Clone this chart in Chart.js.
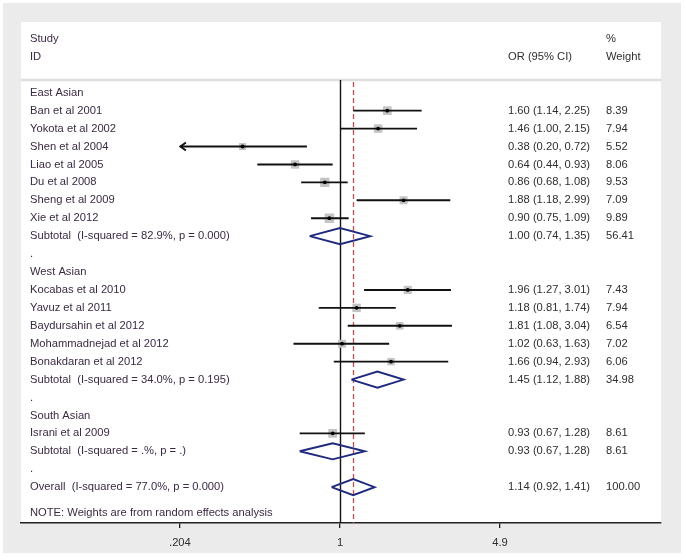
<!DOCTYPE html>
<html>
<head>
<meta charset="utf-8">
<script src="https://cdn.jsdelivr.net/npm/chart.js@4"></script>
<style>
html,body{margin:0;padding:0;background:#fff;}
canvas{display:block;}
</style>
</head>
<body>
<canvas id="c" width="686" height="560"></canvas>
<script>
// ---- data ----
const groupNames = ["East Asian", "West Asian", "South Asian"];
const groupRows = [0, 10, 18];
const spacerRows = [9, 17, 21];

const studies = ["Ban et al 2001", "Yokota et al 2002", "Shen et al 2004", "Liao et al 2005", "Du et al 2008",
  "Sheng et al 2009", "Xie et al 2012", "Kocabas et al 2010", "Yavuz et al 2011", "Baydursahin et al 2012",
  "Mohammadnejad et al 2012", "Bonakdaran et al 2012", "Israni et al 2009"];
const studyRows = [1, 2, 3, 4, 5, 6, 7, 11, 12, 13, 14, 15, 19];
const studyOR = [1.60, 1.46, 0.38, 0.64, 0.86, 1.88, 0.90, 1.96, 1.18, 1.81, 1.02, 1.66, 0.93];
const studyLo = [1.14, 1.00, 0.20, 0.44, 0.68, 1.18, 0.75, 1.27, 0.81, 1.08, 0.63, 0.94, 0.67];
const studyHi = [2.25, 2.15, 0.72, 0.93, 1.08, 2.99, 1.09, 3.01, 1.74, 3.04, 1.63, 2.93, 1.28];
const studyWeight = [8.39, 7.94, 5.52, 8.06, 9.53, 7.09, 9.89, 7.43, 7.94, 6.54, 7.02, 6.06, 8.61];

const pooledLabels = ["Subtotal  (I-squared = 82.9%, p = 0.000)", "Subtotal  (I-squared = 34.0%, p = 0.195)",
  "Subtotal  (I-squared = .%, p = .)", "Overall  (I-squared = 77.0%, p = 0.000)"];
const pooledRows = [8, 16, 20, 22];
const pooledOR = [1.00, 1.45, 0.93, 1.14];
const pooledLo = [0.74, 1.12, 0.67, 0.92];
const pooledHi = [1.35, 1.88, 1.28, 1.41];
const pooledWeight = [56.41, 34.98, 8.61, 100.00];

const tickValues = [0.204, 1, 4.9];
const tickLabels = [".204", "1", "4.9"];
const noteText = "NOTE: Weights are from random effects analysis";
const overallOR = pooledOR[3];

// ---- style ----
const FONT = '11.2px "Liberation Sans", Arial, sans-serif';
const LABEL_COLOR = '#3a2a42';
const NUM_COLOR = '#2e2e2e';
const NAVY = '#1f2a7e';
const xMinVal = 0.04209, xMaxVal = 24.24;
const lowClip = tickValues[0];

// ---- build datasets from data ----
const ciPts = [];
studyRows.forEach((r, i) => {
  ciPts.push({x: Math.max(studyLo[i], lowClip), y: r});
  ciPts.push({x: studyHi[i], y: r});
  ciPts.push({x: studyHi[i], y: null});
});
const diamondPts = [];
const dh = 0.45;
pooledRows.forEach((r, i) => {
  diamondPts.push({x: pooledLo[i], y: r});
  diamondPts.push({x: pooledOR[i], y: r - dh});
  diamondPts.push({x: pooledHi[i], y: r});
  diamondPts.push({x: pooledOR[i], y: r + dh});
  diamondPts.push({x: pooledLo[i], y: r});
  diamondPts.push({x: pooledHi[i], y: null});
});
const pointPts = studyRows.map((r, i) => ({x: studyOR[i], y: r}));
const squareRadius = studyWeight.map(w => 3.0 * Math.sqrt(w) / Math.SQRT2);

const framePlugin = {
  id: 'frame',
  beforeDraw(chart) {
    const c = chart.ctx, a = chart.chartArea;
    c.save();
    c.fillStyle = '#ffffff'; c.fillRect(0, 0, 686, 560);
    c.fillStyle = '#ebebeb'; c.fillRect(3, 3, 678, 550);
    c.fillStyle = '#ffffff'; c.fillRect(a.left, 22, a.right - a.left, a.bottom - 22);
    c.strokeStyle = '#dedede'; c.lineWidth = 2.5;
    c.beginPath(); c.moveTo(a.left, a.top); c.lineTo(a.right, a.top); c.stroke();
    c.restore();
  },
  beforeDatasetsDraw(chart) {
    const c = chart.ctx, a = chart.chartArea, x = chart.scales.x;
    c.save();
    const x1 = Math.round(x.getPixelForValue(1)) + 0.5;
    c.strokeStyle = '#111'; c.lineWidth = 1.4;
    c.beginPath(); c.moveTo(x1, a.top); c.lineTo(x1, a.bottom); c.stroke();
    const xo = Math.round(x.getPixelForValue(overallOR)) + 0.5;
    c.strokeStyle = '#c0504d'; c.lineWidth = 1.3; c.setLineDash([5, 3]);
    c.beginPath(); c.moveTo(xo, a.top + 2); c.lineTo(xo, a.bottom); c.stroke();
    c.restore();
  },
  afterDraw(chart) {
    const c = chart.ctx, y = chart.scales.y, x = chart.scales.x;
    c.save();
    c.font = FONT; c.textBaseline = 'middle'; c.textAlign = 'left';
    const LX = 30, NX = 508, WX = 606;
    c.fillStyle = LABEL_COLOR;
    c.fillText("Study", LX, y.getPixelForValue(-3));
    c.fillText("ID", LX, y.getPixelForValue(-2));
    c.fillStyle = NUM_COLOR;
    c.fillText("OR (95% CI)", NX, y.getPixelForValue(-2));
    c.fillText("%", WX, y.getPixelForValue(-3));
    c.fillText("Weight", WX, y.getPixelForValue(-2));
    c.fillStyle = LABEL_COLOR;
    groupRows.forEach((r, i) => c.fillText(groupNames[i], LX, y.getPixelForValue(r)));
    spacerRows.forEach(r => c.fillText(".", LX, y.getPixelForValue(r)));
    studyRows.forEach((r, i) => {
      const py = y.getPixelForValue(r);
      c.fillStyle = LABEL_COLOR; c.fillText(studies[i], LX, py);
      c.fillStyle = NUM_COLOR;
      c.fillText(`${studyOR[i].toFixed(2)} (${studyLo[i].toFixed(2)}, ${studyHi[i].toFixed(2)})`, NX, py);
      c.fillText(studyWeight[i].toFixed(2), WX, py);
    });
    pooledRows.forEach((r, i) => {
      const py = y.getPixelForValue(r);
      c.fillStyle = LABEL_COLOR; c.fillText(pooledLabels[i], LX, py);
      c.fillStyle = NUM_COLOR;
      c.fillText(`${pooledOR[i].toFixed(2)} (${pooledLo[i].toFixed(2)}, ${pooledHi[i].toFixed(2)})`, NX, py);
      c.fillText(pooledWeight[i].toFixed(2), WX, py);
    });
    c.fillStyle = LABEL_COLOR;
    c.fillText(noteText, LX, y.getPixelForValue(23.43));
    c.strokeStyle = '#111'; c.lineWidth = 1.9;
    studyRows.forEach((r, i) => {
      if (studyLo[i] < lowClip) {
        const px = x.getPixelForValue(lowClip), py = y.getPixelForValue(r);
        c.beginPath();
        c.moveTo(px + 6, py - 4); c.lineTo(px + 0.5, py); c.lineTo(px + 6, py + 4);
        c.stroke();
      }
    });
    c.restore();
  }
};

new Chart(document.getElementById('c'), {
  type: 'scatter',
  data: {
    datasets: [
      {type: 'scatter', data: pointPts, pointStyle: 'rect', pointRadius: squareRadius,
       backgroundColor: '#c4c4c4', borderWidth: 0, order: 4},
      {type: 'line', data: ciPts, showLine: true, spanGaps: false, pointRadius: 0,
       borderColor: '#111', borderWidth: 1.9, fill: false, order: 3},
      {type: 'line', data: diamondPts, showLine: true, spanGaps: false, pointRadius: 0,
       borderColor: NAVY, borderWidth: 1.9, fill: false, order: 2, borderJoinStyle: 'miter'},
      {type: 'scatter', data: pointPts, pointStyle: 'circle', pointRadius: 1.9,
       backgroundColor: '#000', borderWidth: 0, order: 1}
    ]
  },
  options: {
    responsive: false,
    animation: false,
    devicePixelRatio: 1,
    layout: {padding: {left: 21, right: 25, top: 80, bottom: 0}},
    plugins: {legend: {display: false}, tooltip: {enabled: false}},
    scales: {
      x: {
        type: 'logarithmic', min: xMinVal, max: xMaxVal, position: 'bottom',
        afterBuildTicks(s) { s.ticks = tickValues.map(v => ({value: v})); },
        afterFit(s) { s.height = 37; },
        ticks: {
          callback(v) { const k = tickValues.indexOf(v); return k >= 0 ? tickLabels[k] : ''; },
          font: {family: '"Liberation Sans", Arial, sans-serif', size: 11.2},
          color: NUM_COLOR, padding: 8, maxRotation: 0, autoSkip: false
        },
        grid: {drawOnChartArea: false, drawTicks: true, tickLength: 5, color: '#222', lineWidth: 1.3},
        border: {display: true, color: '#222', width: 1.6}
      },
      y: {
        type: 'linear', reverse: true, min: -0.71, max: 24.0, display: false
      }
    }
  },
  plugins: [framePlugin]
});
</script>
</body>
</html>
